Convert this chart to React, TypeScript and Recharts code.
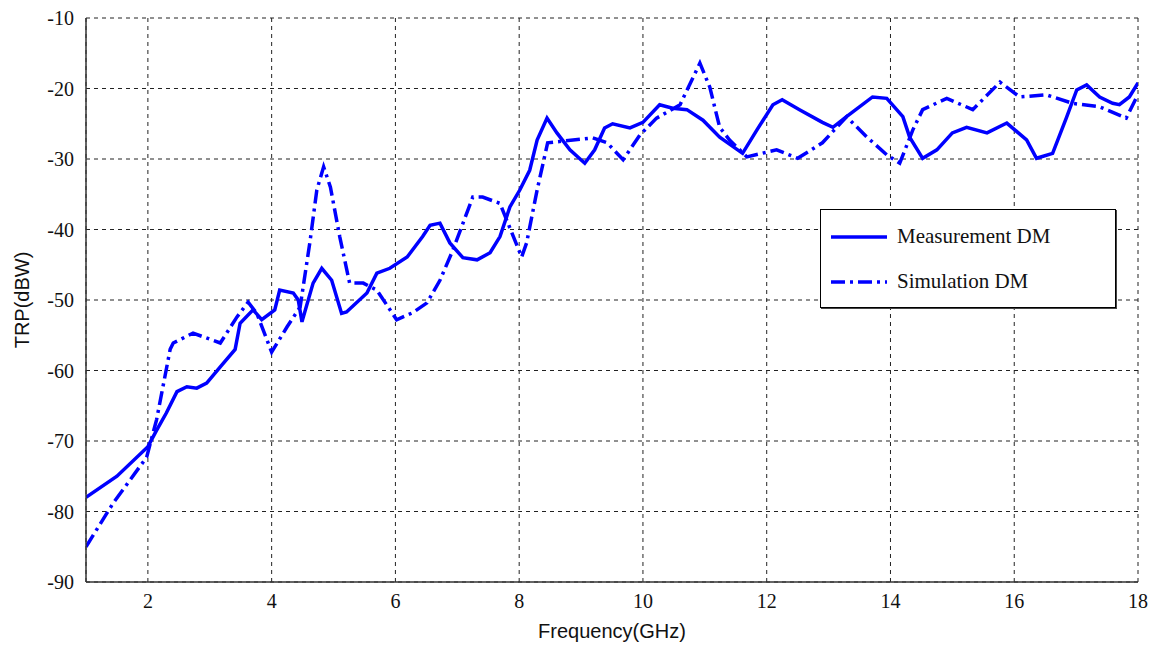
import {
  CartesianGrid,
  Line,
  LineChart,
  XAxis,
  YAxis,
} from "recharts";

const measFreq = [
  1.0, 1.5, 2.0, 2.14, 2.3, 2.47, 2.63, 2.79, 2.95, 3.17, 3.41, 3.49, 3.7, 3.84,
  4.05, 4.13, 4.35, 4.43, 4.49, 4.67, 4.81, 4.97, 5.13, 5.21, 5.54, 5.7, 5.91,
  6.19, 6.44, 6.56, 6.72, 6.88, 7.09, 7.32, 7.53, 7.69, 7.85, 8.01, 8.17, 8.29,
  8.45, 8.61, 8.82, 9.06, 9.22, 9.38, 9.51, 9.79, 10.0, 10.27, 10.48, 10.71,
  10.97, 11.24, 11.61, 11.84, 12.1, 12.25, 12.53, 12.9, 13.07, 13.29, 13.71,
  13.94, 14.2, 14.31, 14.52, 14.75, 15.0, 15.23, 15.56, 15.88, 16.2, 16.36,
  16.62, 16.85, 17.01, 17.17, 17.38, 17.59, 17.7, 17.86, 18.0,
];
const measTrp = [
  -78, -75, -70.8, -68.5, -66, -63, -62.3, -62.5, -61.8, -59.5, -57, -53.3,
  -51.4, -52.8, -51.4, -48.6, -49, -50, -53.1, -47.6, -45.5, -47.2, -51.9, -51.7,
  -49, -46.2, -45.5, -43.9, -41, -39.4, -39.1, -41.9, -44, -44.3, -43.3, -41,
  -36.8, -34.4, -31.6, -27.3, -24.2, -26.3, -28.7, -30.6, -28.7, -25.6, -25,
  -25.6, -24.8, -22.3, -22.8, -23, -24.5, -26.9, -29.2, -25.9, -22.3, -21.6, -23,
  -24.8, -25.5, -24, -21.2, -21.4, -24, -26.9, -29.9, -28.7, -26.3, -25.5, -26.3,
  -24.9, -27.3, -29.9, -29.2, -24, -20.2, -19.5, -21.2, -22.1, -22.3, -21.2,
  -19.2,
];

const simFreq = [
  1.0, 1.44, 1.98, 2.14, 2.36, 2.41, 2.73, 3.17, 3.44, 3.62, 3.76, 4.0, 4.25,
  4.46, 4.62, 4.73, 4.84, 4.95, 5.1, 5.26, 5.48, 5.7, 6.02, 6.28, 6.51, 6.72,
  6.93, 7.25, 7.41, 7.69, 7.8, 8.04, 8.12, 8.29, 8.46, 9.19, 9.42, 9.68, 9.95,
  10.22, 10.6, 10.92, 11.08, 11.24, 11.4, 11.68, 12.16, 12.5, 12.9, 13.29,
  13.62, 13.94, 14.15, 14.36, 14.52, 14.91, 15.33, 15.77, 16.09, 16.52, 16.94,
  17.38, 17.81, 17.98,
];
const simTrp = [
  -85, -78.8, -72.3, -67, -57, -56.1, -54.7, -56.1, -52.4, -50.3, -51.9, -57.4,
  -53.8, -51, -41.7, -34.4, -31.1, -34, -41, -47.6, -47.6, -48.6, -52.8, -51.8,
  -50.4, -47.2, -42.9, -35.4, -35.4, -36.3, -38.7, -43.9, -41.9, -34.4, -27.7,
  -27, -27.7, -30.1, -26.6, -24.2, -22.3, -16.4, -19.8, -25.5, -27.3, -29.7,
  -28.7, -29.9, -27.7, -24, -26.9, -29.4, -30.6, -25.9, -23, -21.4, -23, -19.1,
  -21.2, -20.9, -22.1, -22.6, -24.2, -21.2,
];

const xTicks = [2, 4, 6, 8, 10, 12, 14, 16, 18];
const yTicks = [-90, -80, -70, -60, -50, -40, -30, -20, -10];

const measData = measFreq.map((f, i) => ({ f, trp: measTrp[i] }));
const simData = simFreq.map((f, i) => ({ f, trp: simTrp[i] }));

const BLUE = "#0000ff";
const SIM_DASH = "14 5 3 5";
const SERIF = "'Liberation Serif', 'Times New Roman', serif";
const SANS = "'Liberation Sans', Arial, sans-serif";

// matlab-style legend box, placed over the plot
function LegendBox() {
  const row = (label: string, dash?: string) => (
    <div style={{ display: "flex", alignItems: "center", height: 45 }}>
      <svg width={62} height={10} style={{ marginRight: 6 }}>
        <line
          x1={2}
          y1={5}
          x2={58}
          y2={5}
          stroke={BLUE}
          strokeWidth={3.5}
          strokeDasharray={dash}
        />
      </svg>
      <span>{label}</span>
    </div>
  );
  return (
    <div
      style={{
        position: "absolute",
        left: 820,
        top: 209,
        width: 296,
        height: 99,
        boxSizing: "border-box",
        border: "1.5px solid #000",
        background: "#fff",
        padding: "4px 0 0 8px",
        fontFamily: SERIF,
        fontSize: 21,
        color: "#111",
        boxShadow: "1px 1px 0 #444",
      }}
    >
      {row("Measurement DM")}
      {row("Simulation DM", SIM_DASH)}
    </div>
  );
}

export default function App() {
  const tickStyle = { fontFamily: SERIF, fontSize: 20, fill: "#111" };
  return (
    <div
      style={{
        position: "absolute",
        left: 0,
        top: 0,
        width: 1160,
        height: 645,
        background: "#fff",
      }}
    >
      <LineChart
        width={1160}
        height={645}
        margin={{ top: 18, right: 22, bottom: 23, left: 26 }}
      >
        <CartesianGrid
          xAxisId="b"
          yAxisId="l"
          stroke="#222"
          strokeDasharray="4 4"
          strokeWidth={1}
        />
        <XAxis
          xAxisId="b"
          type="number"
          dataKey="f"
          domain={[1, 18]}
          ticks={xTicks}
          allowDataOverflow
          tickLine={false}
          tickMargin={6}
          tick={tickStyle}
          axisLine={{ stroke: "#333", strokeWidth: 1.5 }}
          height={40}
          label={{
            value: "Frequency(GHz)",
            position: "insideBottom",
            offset: -16,
            style: { fontFamily: SANS, fontSize: 20, fill: "#111" },
          }}
        />
        <XAxis
          xAxisId="t"
          orientation="top"
          type="number"
          dataKey="f"
          domain={[1, 18]}
          ticks={xTicks}
          tick={false}
          tickLine={false}
          height={0}
          axisLine={{ stroke: "#333", strokeWidth: 1.5 }}
        />
        <YAxis
          yAxisId="l"
          type="number"
          domain={[-90, -10]}
          ticks={yTicks}
          allowDataOverflow
          tickLine={false}
          tickMargin={6}
          tick={tickStyle}
          width={60}
          axisLine={{ stroke: "#333", strokeWidth: 1.5 }}
          label={{
            value: "TRP(dBW)",
            angle: -90,
            position: "insideLeft",
            dx: -9,
            dy: 0,
            style: {
              textAnchor: "middle",
              fontFamily: SANS,
              fontSize: 20,
              fill: "#111",
            },
          }}
        />
        <YAxis
          yAxisId="r"
          orientation="right"
          type="number"
          domain={[-90, -10]}
          ticks={yTicks}
          tick={false}
          tickLine={false}
          width={0}
          axisLine={{ stroke: "#333", strokeWidth: 1.5 }}
        />
        <Line
          xAxisId="b"
          yAxisId="l"
          data={measData}
          dataKey="trp"
          name="Measurement DM"
          type="linear"
          stroke={BLUE}
          strokeWidth={3.5}
          dot={false}
          isAnimationActive={false}
        />
        <Line
          xAxisId="b"
          yAxisId="l"
          data={simData}
          dataKey="trp"
          name="Simulation DM"
          type="linear"
          stroke={BLUE}
          strokeWidth={3.5}
          strokeDasharray={SIM_DASH}
          dot={false}
          isAnimationActive={false}
        />
      </LineChart>
      <LegendBox />
    </div>
  );
}
